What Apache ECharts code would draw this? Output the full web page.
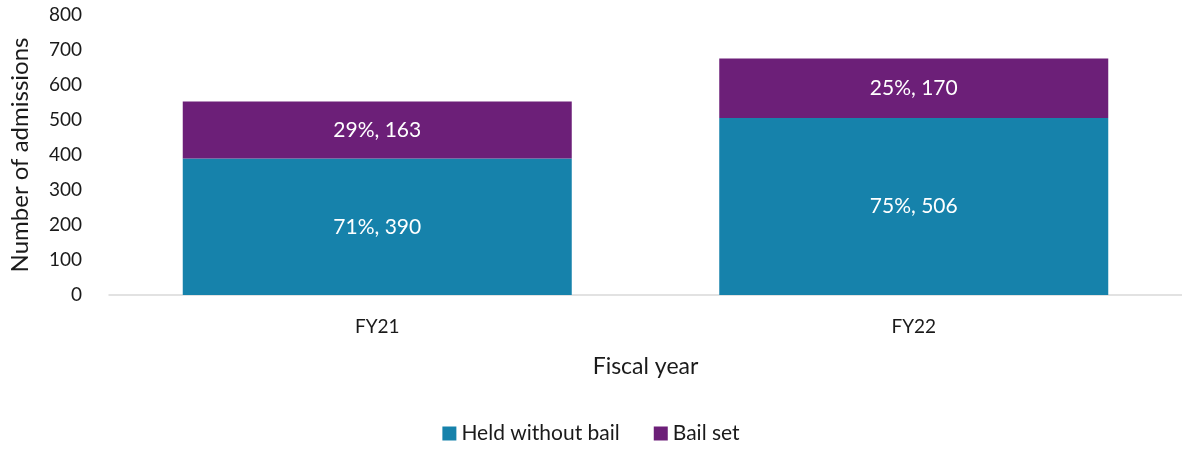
<!DOCTYPE html>
<html>
<head>
<meta charset="utf-8">
<script src="https://cdn.jsdelivr.net/npm/echarts@6/dist/echarts.min.js"></script>
<style>
  html, body { margin: 0; padding: 0; background: #fff; }
  #chart { width: 1182px; height: 449px; }
</style>
</head>
<body>
<div id="chart"></div>
<script>
// Admissions by fiscal year, split by bail outcome
const categories = ['FY21', 'FY22'];
const heldWithoutBail = [390, 506];
const heldPct = [71, 75];
const bailSet = [163, 170];
const bailPct = [29, 25];
const yTicks = [0, 100, 200, 300, 400, 500, 600, 700, 800];

const FONT = 'Lato, "Open Sans", sans-serif';
const chart = echarts.init(document.getElementById('chart'));

function labelFor(pcts) {
  return function (p) { return pcts[p.dataIndex] + '%, ' + p.value; };
}

chart.setOption({
  animation: false,
  textStyle: { fontFamily: FONT },
  grid: { left: 107, top: 15, right: 0, height: 280 },
  legend: {
    bottom: 0,
    left: 'center',
    itemWidth: 14,
    itemHeight: 14,
    itemGap: 34,
    icon: 'rect',
    textStyle: { fontSize: 21, color: '#1a1a1a', fontFamily: FONT },
    data: ['Held without bail', 'Bail set']
  },
  xAxis: {
    type: 'category',
    data: categories,
    name: 'Fiscal year',
    nameLocation: 'middle',
    nameGap: 60,
    nameTextStyle: { fontSize: 23, color: '#1a1a1a', fontFamily: FONT },
    axisLine: { lineStyle: { color: '#d9d9d9', width: 1.5 } },
    axisTick: { show: false },
    axisLabel: { fontSize: 19, color: '#1a1a1a', margin: 22, fontFamily: FONT }
  },
  yAxis: {
    type: 'value',
    min: yTicks[0],
    max: yTicks[yTicks.length - 1],
    interval: 100,
    name: 'Number of admissions',
    nameLocation: 'middle',
    nameGap: 77,
    nameTextStyle: { fontSize: 24, color: '#1a1a1a', fontFamily: FONT },
    splitLine: { show: false },
    axisLine: { show: false },
    axisTick: { show: false },
    axisLabel: { fontSize: 19, color: '#1a1a1a', margin: 27, fontFamily: FONT }
  },
  series: [
    {
      name: 'Held without bail',
      type: 'bar',
      stack: 'total',
      barWidth: 389,
      data: heldWithoutBail,
      itemStyle: { color: '#1682AB' },
      label: {
        show: true,
        position: 'inside',
        color: '#fff',
        fontSize: 21,
        fontFamily: FONT,
        formatter: labelFor(heldPct)
      }
    },
    {
      name: 'Bail set',
      type: 'bar',
      stack: 'total',
      barWidth: 389,
      data: bailSet,
      itemStyle: { color: '#6C1F78' },
      label: {
        show: true,
        position: 'inside',
        color: '#fff',
        fontSize: 21,
        fontFamily: FONT,
        formatter: labelFor(bailPct)
      }
    }
  ]
});
</script>
</body>
</html>
